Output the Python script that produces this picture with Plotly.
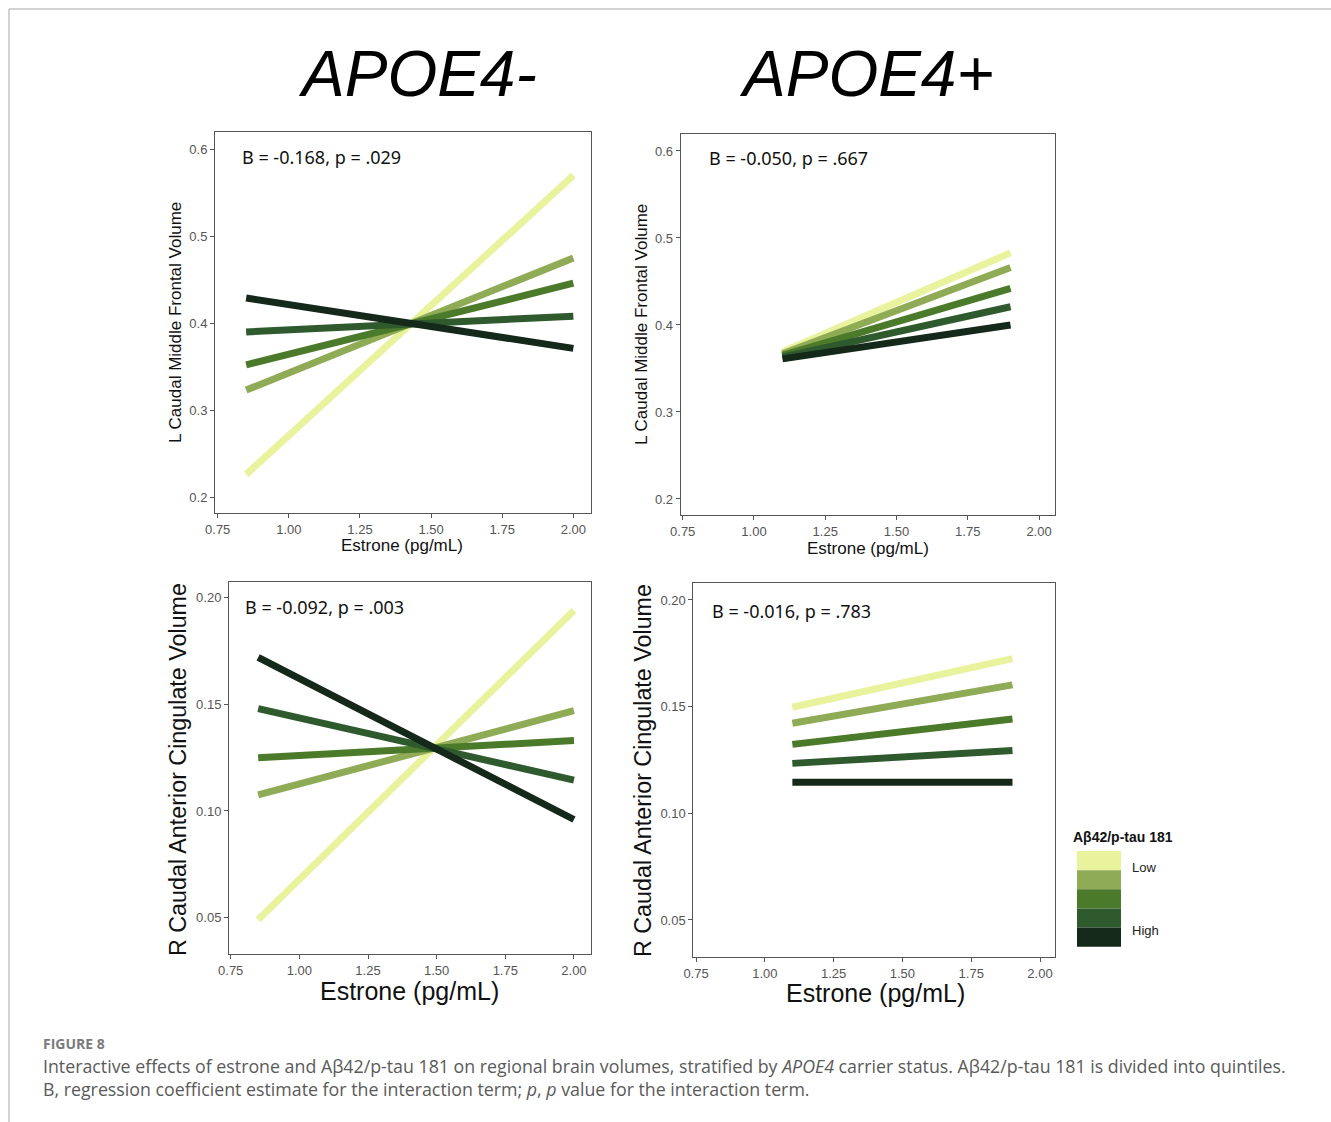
import plotly.graph_objects as go

W, H = 1331, 1122

# ---------------- data ----------------
quintiles = ["Q1 (Low)", "Q2", "Q3", "Q4", "Q5 (High)"]
colors = ["#e9f29c", "#8fab55", "#4c7a2b", "#2f5a2e", "#15291a"]

x_neg = [0.85, 2.00]   # APOE4- estrone range
x_pos = [1.10, 1.90]   # APOE4+ estrone range

# L Caudal Middle Frontal Volume (start, end) per quintile
lcmf_neg = [[0.226, 0.570], [0.323, 0.475], [0.352, 0.446], [0.390, 0.408], [0.429, 0.371]]
lcmf_pos = [[0.369, 0.483], [0.367, 0.466], [0.365, 0.442], [0.363, 0.421], [0.361, 0.400]]
# R Caudal Anterior Cingulate Volume
rcac_neg = [[0.049, 0.194], [0.1075, 0.147], [0.125, 0.133], [0.148, 0.1145], [0.172, 0.096]]
rcac_pos = [[0.1497, 0.1725], [0.1422, 0.1602], [0.1323, 0.1442], [0.1234, 0.1294], [0.1145, 0.1145]]

stats = ["B = -0.168, p = .029", "B = -0.050, p = .667",
         "B = -0.092, p = .003", "B = -0.016, p = .783"]

x_ticks = [0.75, 1.00, 1.25, 1.50, 1.75, 2.00]
x_ticklabels = ["0.75", "1.00", "1.25", "1.50", "1.75", "2.00"]
y_ticks_top = [0.2, 0.3, 0.4, 0.5, 0.6]
y_ticklabels_top = ["0.2", "0.3", "0.4", "0.5", "0.6"]
y_ticks_bot = [0.05, 0.10, 0.15, 0.20]
y_ticklabels_bot = ["0.05", "0.10", "0.15", "0.20"]

# ---------------- helpers ----------------
def px(x):
    return x / W

def py(y):
    return 1 - y / H

fig = go.Figure()

panels = [
    # (xaxis, yaxis, xs, series, box px [l, r, t, b], yrange, yticks, yticklabels)
    ("x", "y", x_neg, lcmf_neg, [215, 590.7, 132, 513], [0.1816, 0.620], y_ticks_top, y_ticklabels_top),
    ("x2", "y2", x_pos, lcmf_pos, [680.7, 1055, 134, 515], [0.1816, 0.6195], y_ticks_top, y_ticklabels_top),
    ("x3", "y3", x_neg, rcac_neg, [229, 590.7, 581.7, 954.3], [0.0328, 0.2075], y_ticks_bot, y_ticklabels_bot),
    ("x4", "y4", x_pos, rcac_pos, [693.3, 1055, 583.3, 957.3], [0.0325, 0.2078], y_ticks_bot, y_ticklabels_bot),
]
xranges = [[0.7405, 2.061], [0.743, 2.056], [0.7438, 2.061], [0.740, 2.0545]]

layout_axes = {}
for i, (xa, ya, xs, series, box, yr, yt, ytl) in enumerate(panels):
    for q, (vals, c) in enumerate(zip(series, colors)):
        fig.add_trace(go.Scatter(
            x=xs, y=vals, mode="lines", xaxis=xa, yaxis=ya,
            line=dict(color=c, width=7), name=quintiles[q], showlegend=False,
            hoverinfo="skip"))
    l, r, t, b = box
    xname = "xaxis" if xa == "x" else "xaxis" + xa[1:]
    yname = "yaxis" if ya == "y" else "yaxis" + ya[1:]
    common = dict(showgrid=False, zeroline=False, showline=True, mirror=True,
                  linecolor="#555555", linewidth=1, ticks="outside", ticklen=4,
                  tickcolor="#555555", tickwidth=1, automargin=False,
                  tickfont=dict(family="Liberation Sans, Arial", size=13, color="#555555"),
                  fixedrange=True)
    layout_axes[xname] = dict(domain=[px(l), px(r)], range=xranges[i], anchor=ya,
                              tickvals=x_ticks, ticktext=x_ticklabels, **common)
    layout_axes[yname] = dict(domain=[py(b), py(t)], range=yr, anchor=xa,
                              tickvals=yt, ticktext=ytl, **common)

fig.update_layout(**layout_axes)

annotations = []
# stats text
stat_pos = [(240, 157), (707, 158), (243, 607), (710, 611)]
for s, (x0, y0) in zip(stats, stat_pos):
    annotations.append(dict(text=s, x=px(x0), y=py(y0), xref="paper", yref="paper",
                            xanchor="left", yanchor="middle", showarrow=False,
                            font=dict(family="Noto Sans", size=18, color="#111111")))

# axis titles
xt = [(402, 546, 17), (868, 548, 17), (409, 991, 25), (875, 993, 25)]
for x0, y0, sz in xt:
    annotations.append(dict(text="Estrone (pg/mL)", x=px(x0), y=py(y0), xref="paper", yref="paper",
                            xanchor="center", yanchor="middle", showarrow=False,
                            font=dict(family="Liberation Sans, Arial", size=sz, color="#111111")))
yt_ = [(176, 323, 17, "L Caudal Middle Frontal Volume"),
       (641, 325, 17, "L Caudal Middle Frontal Volume"),
       (178, 769, 23.3, "R Caudal Anterior Cingulate Volume"),
       (643, 771, 23.3, "R Caudal Anterior Cingulate Volume")]
for x0, y0, sz, txt in yt_:
    annotations.append(dict(text=txt, x=px(x0), y=py(y0), xref="paper", yref="paper",
                            xanchor="center", yanchor="middle", showarrow=False, textangle=-90,
                            font=dict(family="Liberation Sans, Arial", size=sz, color="#111111")))

# panel column titles
for txt, x0 in [("APOE4-", 417), ("APOE4+", 866)]:
    annotations.append(dict(text="<i>" + txt + "</i>", x=px(x0), y=py(74), xref="paper", yref="paper",
                            xanchor="center", yanchor="middle", showarrow=False,
                            font=dict(family="Liberation Sans, Arial", size=64, color="#000000")))

# legend
annotations.append(dict(text="<b>Aβ42/p-tau 181</b>", x=px(1071), y=py(837), xref="paper", yref="paper",
                        xanchor="left", yanchor="middle", showarrow=False,
                        font=dict(family="Liberation Sans, Arial", size=14, color="#111111")))
annotations.append(dict(text="Low", x=px(1130), y=py(867), xref="paper", yref="paper",
                        xanchor="left", yanchor="middle", showarrow=False,
                        font=dict(family="Liberation Sans, Arial", size=13, color="#222222")))
annotations.append(dict(text="High", x=px(1130), y=py(930), xref="paper", yref="paper",
                        xanchor="left", yanchor="middle", showarrow=False,
                        font=dict(family="Liberation Sans, Arial", size=13, color="#222222")))

shapes = []
sw_top, sw_h = 851, 19.15
for k, c in enumerate(colors):
    shapes.append(dict(type="rect", xref="paper", yref="paper",
                       x0=px(1077), x1=px(1121), y0=py(sw_top + k * sw_h), y1=py(sw_top + (k + 1) * sw_h),
                       fillcolor=c, line=dict(width=0)))

# figure frame lines
shapes.append(dict(type="line", xref="paper", yref="paper", x0=px(9), x1=1, y0=py(9), y1=py(9),
                   line=dict(color="#c4c4c4", width=1.5)))
shapes.append(dict(type="line", xref="paper", yref="paper", x0=px(9), x1=px(9), y0=py(9), y1=0,
                   line=dict(color="#c4c4c4", width=1.5)))

# caption
annotations.append(dict(text="<b>FIGURE 8</b>", x=px(41), y=py(1043), xref="paper", yref="paper",
                        xanchor="left", yanchor="middle", showarrow=False,
                        font=dict(family="Open Sans", size=14, color="#7a7a7a")))
cap1 = ("Interactive effects of estrone and Aβ42/p-tau 181 on regional brain volumes, stratified by "
        "<i>APOE4</i> carrier status. Aβ42/p-tau 181 is divided into quintiles.")
cap2 = "B, regression coefficient estimate for the interaction term; <i>p</i>, <i>p</i> value for the interaction term."
for txt, y0 in [(cap1, 1066), (cap2, 1089)]:
    annotations.append(dict(text=txt, x=px(41), y=py(y0), xref="paper", yref="paper",
                            xanchor="left", yanchor="middle", showarrow=False,
                            font=dict(family="Open Sans", size=17.8, color="#5a5a5a")))

fig.update_layout(width=W, height=H, margin=dict(l=0, r=0, t=0, b=0, autoexpand=False),
                  paper_bgcolor="white", plot_bgcolor="white",
                  annotations=annotations, shapes=shapes, showlegend=False)

fig.write_html("out.html", config={"displayModeBar": False})
